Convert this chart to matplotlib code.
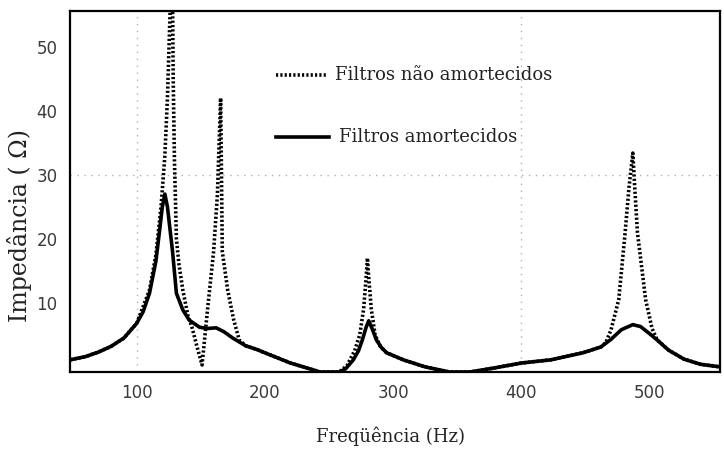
import matplotlib
matplotlib.use("Agg")
import matplotlib.pyplot as plt

# Filtros amortecidos (Hz, Ohm)
freq_amort = [48, 60, 70, 80, 90, 100, 105, 110, 115, 118, 120, 122, 124, 126, 128,
              131, 136, 141, 149, 155, 162, 168, 175, 185, 194, 200, 210, 220, 230,
              243, 258, 263, 269, 273, 276, 279, 281, 284, 287, 291, 295, 308, 325,
              344, 360, 378, 400, 423, 448, 462, 470, 478, 487, 493, 500, 506, 515,
              527, 540, 555]
imp_amort = [1.1, 1.6, 2.3, 3.2, 4.5, 6.8, 8.6, 11.5, 16.5, 21.5, 25.0, 27.0, 25.0, 21.5, 18.0,
             11.5, 8.9, 7.3, 6.2, 6.0, 6.1, 5.5, 4.5, 3.3, 2.7, 2.2, 1.4, 0.6, 0.0,
             -0.8, -0.8, -0.3, 1.1, 2.5, 4.2, 6.2, 7.2, 5.8, 4.2, 3.0, 2.2, 1.1, 0.0,
             -0.8, -0.8, -0.2, 0.6, 1.1, 2.2, 3.1, 4.3, 5.8, 6.6, 6.3, 5.2, 4.2, 2.6,
             1.2, 0.4, 0.0]

# Filtros nao amortecidos (Hz, Ohm)
freq_nao = [48, 60, 70, 80, 90, 100, 110, 115, 119, 122, 124, 126, 127.5, 128.5, 129.5,
            131, 133, 136, 140, 143, 147, 151, 155.5, 160, 163, 165.5, 166.8, 171, 175.5,
            180, 185, 194, 200, 210, 220, 230, 243, 258, 264, 270, 274, 277, 279, 280,
            281, 283, 286, 290, 295, 308, 325, 344, 360, 378, 400, 423, 448, 462, 466,
            470, 476, 481, 484, 487, 488.5, 490.6, 497, 502, 506, 515, 527, 540, 555]
imp_nao = [1.1, 1.6, 2.3, 3.2, 4.5, 6.8, 12.0, 17.5, 25.0, 33.0, 42.0, 55.0, 70.0, 45.0, 32.0,
           20.0, 16.0, 12.0, 8.0, 6.3, 3.2, 0.3, 9.4, 18.0, 27.0, 42.0, 18.0, 12.0, 7.5,
           4.2, 3.3, 2.7, 2.2, 1.4, 0.6, 0.0, -0.8, -0.8, 0.2, 2.5, 5.0, 9.0, 14.0, 17.0,
           14.0, 9.0, 5.0, 3.2, 2.2, 1.1, 0.0, -0.8, -0.8, -0.2, 0.6, 1.1, 2.2, 3.1, 3.8,
           5.8, 10.5, 21.0, 28.0, 33.4, 28.0, 21.0, 10.5, 6.0, 4.2, 2.6, 1.2, 0.4, 0.0]

xticks = [100, 200, 300, 400, 500]
yticks = [10, 20, 30, 40, 50]

fig = plt.figure(figsize=(7.24, 4.5), dpi=100)
ax = fig.add_axes([70 / 724, 1 - 372 / 450, 650 / 724, 361 / 450])

# grade pontilhada só em 100 Hz, 400 Hz e 30 Ohm
ax.axvline(100, color="#b0b0b0", lw=1, ls=(0, (1, 4)), zorder=0)
ax.axvline(400, color="#b0b0b0", lw=1, ls=(0, (1, 4)), zorder=0)
ax.axhline(30, color="#b0b0b0", lw=1, ls=(0, (1, 4)), zorder=0)

ax.plot(freq_nao, imp_nao, color="black", lw=2.6, ls=(0, (0.6, 0.6)))
ax.plot(freq_amort, imp_amort, color="black", lw=2.6, solid_capstyle="round")

ax.set_xlim(48, 555)
ax.set_ylim(-0.8, 55.6)
ax.set_xticks(xticks)
ax.set_yticks(yticks)
ax.tick_params(length=0, labelsize=12, labelcolor="#3a3a3a", pad=9)
for s in ax.spines.values():
    s.set_linewidth(1.6)

# legenda desenhada à mão, como no original
ax.plot([209, 249], [45.6, 45.6], color="black", lw=2.6, ls=(0, (0.6, 0.6)))
ax.text(255, 45.6, "Filtros não amortecidos", fontsize=13, family="DejaVu Serif",
        va="center", color="#222")
ax.plot([209, 250], [35.9, 35.9], color="black", lw=2.6)
ax.text(258, 35.9, "Filtros amortecidos", fontsize=13, family="DejaVu Serif",
        va="center", color="#222")

fig.text(20 / 724, 1 - 225 / 450, "Impedância ( Ω)", rotation=90, fontsize=17,
         family="DejaVu Serif", ha="center", va="center", color="#222")
fig.text(391 / 724, 1 - 436 / 450, "Freqüência (Hz)", fontsize=13,
         family="DejaVu Serif", ha="center", va="center", color="#222")

fig.savefig("out.png", dpi=100)
